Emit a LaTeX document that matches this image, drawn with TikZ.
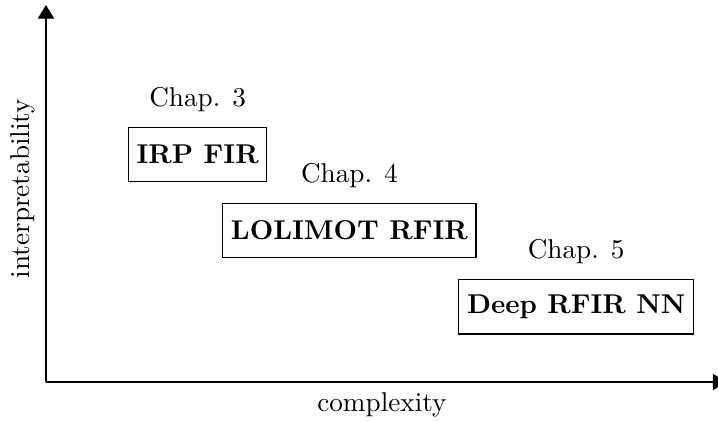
\documentclass[tikz,border=0pt]{standalone}
\usepackage{tikz}
\usetikzlibrary{arrows.meta,positioning}

\begin{document}
\begin{tikzpicture}[>={Triangle[width=6pt,length=5pt]},
  model/.style={draw, rectangle, inner xsep=3pt, minimum height=0.7cm, font=\bfseries},
  chap/.style={inner sep=3.33pt}]
  \useasboundingbox (-0.594,-0.504) rectangle (8.682,4.935);
  % axes
  \coordinate (o) at (0,0);
  \coordinate (xend) at (8.79,0);
  \coordinate (yend) at (0,4.87);
  \draw[->] (o) -- (xend);
  \draw[->] (o) -- (yend);
  \node (xlab) at (4.34,-0.3) {complexity};
  \node[rotate=90] (ylab) at (-0.3,2.5) {interpretability};
  % models
  \node[model] (irp) at (1.96,2.94) {IRP FIR};
  \node[model] (lolimot) at (3.92,1.96) {LOLIMOT RFIR};
  \node[model] (deep) at (6.85,0.97) {Deep RFIR NN};
  \node[chap, above=2pt of irp] (c3) {Chap. 3};
  \node[chap, above=2pt of lolimot] (c4) {Chap. 4};
  \node[chap, above=2pt of deep] (c5) {Chap. 5};
\end{tikzpicture}
\end{document}
